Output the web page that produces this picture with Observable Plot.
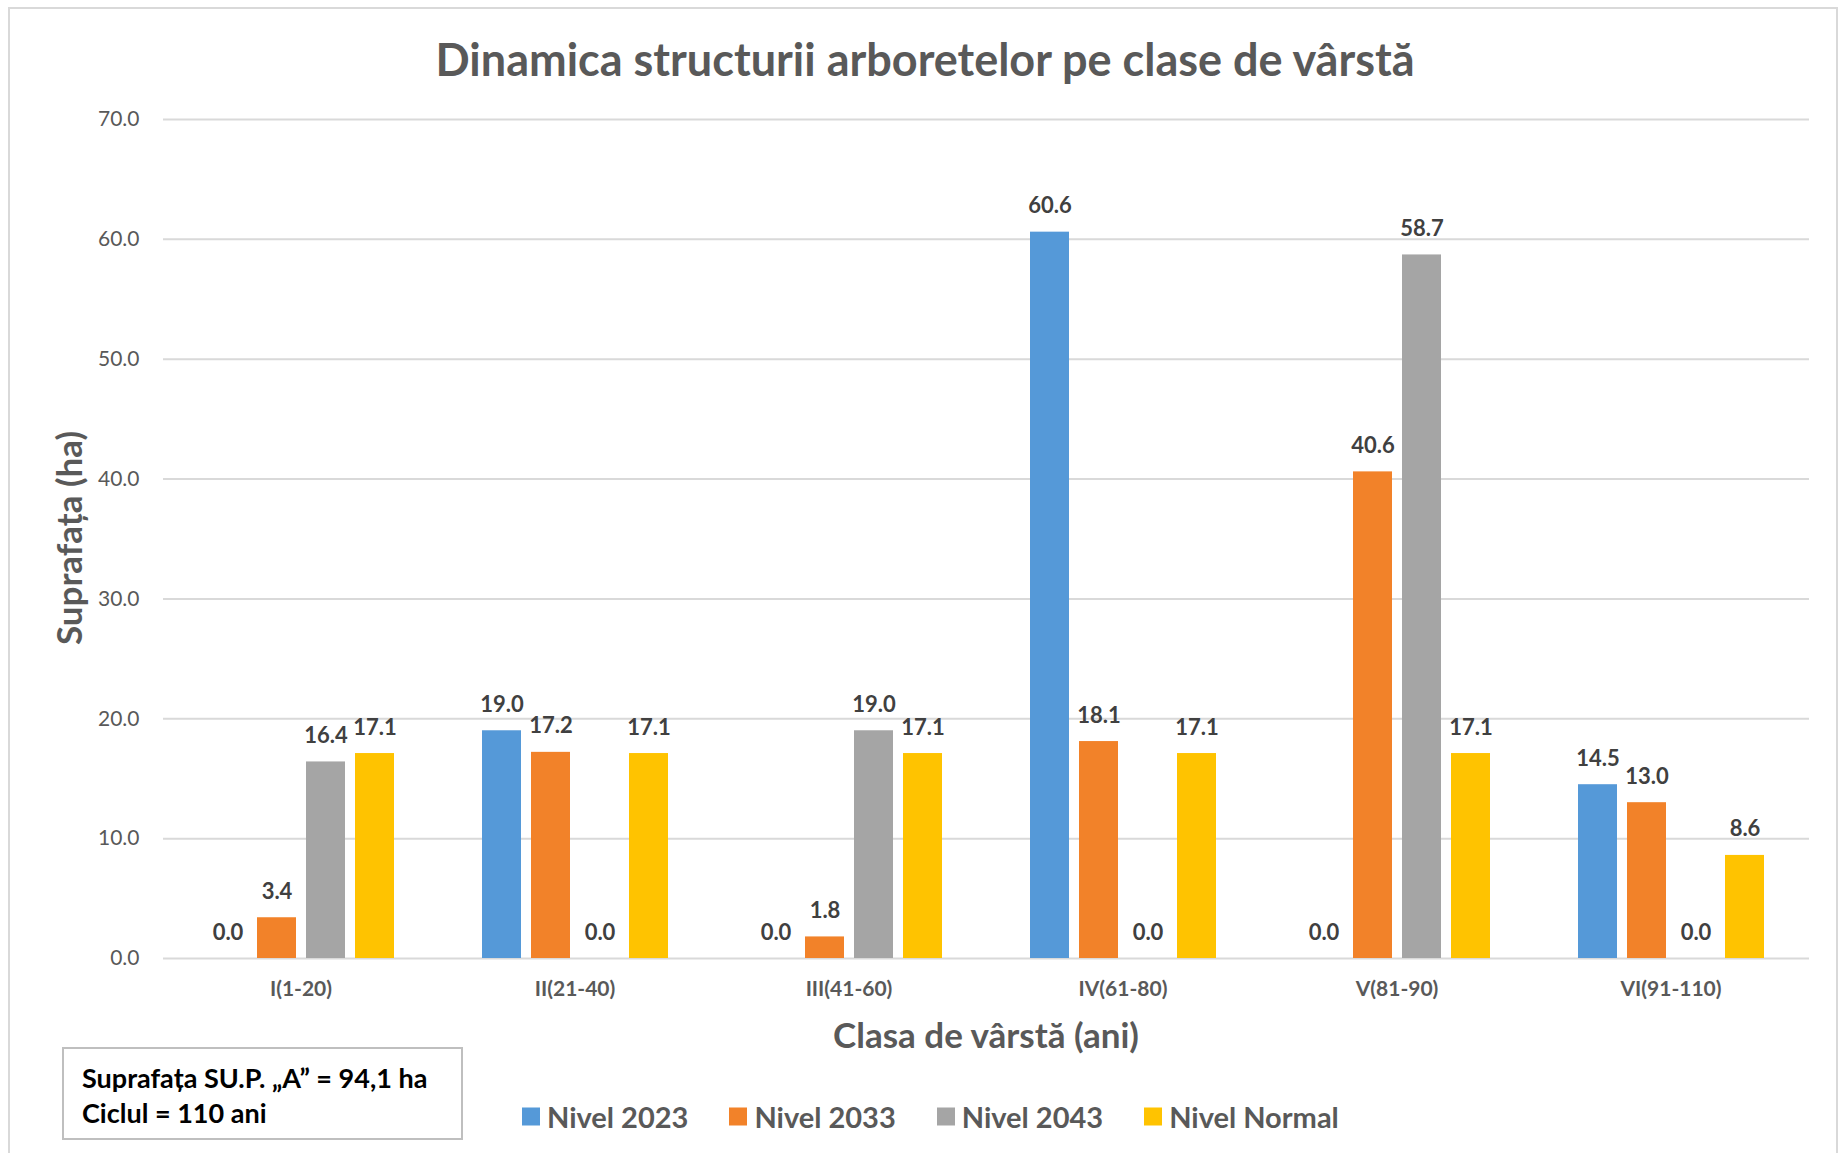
<!DOCTYPE html>
<html>
<head>
<meta charset="utf-8">
<script src="https://cdn.jsdelivr.net/npm/d3@7"></script>
<script src="https://cdn.jsdelivr.net/npm/@observablehq/plot@0.6"></script>
<style>
  html, body { margin: 0; padding: 0; background: #fff; }
  #wrap { position: relative; width: 1847px; height: 1153px; font-family: Lato, "Open Sans", sans-serif; overflow: hidden; }
  #frame { position: absolute; left: 8px; top: 7px; width: 1830px; height: 1150px; border: 2px solid #d9d9d9; box-sizing: border-box; }
  #grid, #chart { position: absolute; left: 0; top: 0; }
  .title { position: absolute; left: 925px; top: 59px; transform: translate(-50%, -50%); font-size: 45px; font-weight: bold; color: #595959; white-space: nowrap; }
  .ytitle { position: absolute; left: 68px; top: 538px; transform: translate(-50%, -50%) rotate(-90deg); font-size: 35px; font-weight: bold; color: #595959; white-space: nowrap; }
  .xtitle { position: absolute; left: 986px; top: 1034px; transform: translate(-50%, -50%); font-size: 35px; font-weight: bold; color: #595959; white-space: nowrap; }
  #legend { position: absolute; left: 522px; top: 1116px; transform: translateY(-50%); display: flex; align-items: center; gap: 41px; font-size: 29px; font-weight: bold; color: #595959; white-space: nowrap; }
  #legend .item { display: flex; align-items: center; gap: 7px; }
  #legend .sw { width: 18px; height: 18px; display: inline-block; }
  #note { position: absolute; left: 62px; top: 1047px; width: 401px; height: 93px; border: 2px solid #bfbfbf; box-sizing: border-box; padding: 11px 0 0 18px; font-size: 27px; font-weight: bold; color: #000; line-height: 35px; white-space: nowrap; }
</style>
</head>
<body>
<div id="wrap">
  <div id="frame"></div>
  <div id="grid"></div>
  <div id="chart"></div>
  <div class="title">Dinamica structurii arboretelor pe clase de vârstă</div>
  <div class="ytitle">Suprafața (ha)</div>
  <div class="xtitle">Clasa de vârstă (ani)</div>
  <div id="legend"></div>
  <div id="note">Suprafața SU.P. „A” = 94,1 ha<br>Ciclul = 110 ani</div>
</div>
<script>
// ---- Data ----
const categories = ["I(1-20)", "II(21-40)", "III(41-60)", "IV(61-80)", "V(81-90)", "VI(91-110)"];
const series = ["Nivel 2023", "Nivel 2033", "Nivel 2043", "Nivel Normal"];
const nivel2023 = [0.0, 19.0, 0.0, 60.6, 0.0, 14.5];
const nivel2033 = [3.4, 17.2, 1.8, 18.1, 40.6, 13.0];
const nivel2043 = [16.4, 0.0, 19.0, 0.0, 58.7, 0.0];
const nivelNormal = [17.1, 17.1, 17.1, 17.1, 17.1, 8.6];
const yTicks = [0, 10, 20, 30, 40, 50, 60, 70];
const colors = ["#5599D8", "#F28229", "#A5A5A5", "#FFC300"];

const seriesValues = [nivel2023, nivel2033, nivel2043, nivelNormal];
const data = [];
categories.forEach((c, i) => {
  series.forEach((s, j) => data.push({cat: c, series: s, value: seriesValues[j][i]}));
});

const common = {
  width: 1847,
  height: 1153,
  marginLeft: 163,
  marginRight: 38,
  marginTop: 119,
  marginBottom: 195,
  style: {fontFamily: "Lato, 'Open Sans', sans-serif", background: "transparent"}
};

// Background layer: continuous gridlines and y axis
const grid = Plot.plot({
  ...common,
  y: {domain: [0, 70], axis: null},
  marks: [
    Plot.ruleY(yTicks, {stroke: "#d9d9d9", strokeWidth: 2}),
    Plot.axisY({ticks: yTicks, tickSize: 0, tickPadding: 24, tickFormat: d => d.toFixed(1), fontSize: 21, color: "#595959", label: null})
  ]
});
document.getElementById("grid").appendChild(grid);

// Foreground layer: grouped bars, value labels and category axis
const plot = Plot.plot({
  ...common,
  fx: {domain: categories, paddingInner: 0.309, paddingOuter: 0.1545, label: null},
  x: {domain: series, paddingInner: 0.21, paddingOuter: 0, axis: null},
  y: {domain: [0, 70], axis: null},
  color: {domain: series, range: colors},
  marks: [
    Plot.axisFx({anchor: "bottom", tickSize: 0, tickPadding: 23, fontSize: 21, fontWeight: "bold", color: "#595959", label: null}),
    Plot.barY(data, {fx: "cat", x: "series", y: "value", fill: "series"}),
    Plot.text(data, {fx: "cat", x: "series", y: "value", text: d => d.value.toFixed(1), dy: -26, lineAnchor: "middle", fontSize: 22, fontWeight: "bold", fill: "#404040"})
  ]
});
document.getElementById("chart").appendChild(plot);

const legend = document.getElementById("legend");
series.forEach((s, i) => {
  const item = document.createElement("div");
  item.className = "item";
  item.innerHTML = `<span class="sw" style="background:${colors[i]}"></span><span>${s}</span>`;
  legend.appendChild(item);
});
</script>
</body>
</html>
